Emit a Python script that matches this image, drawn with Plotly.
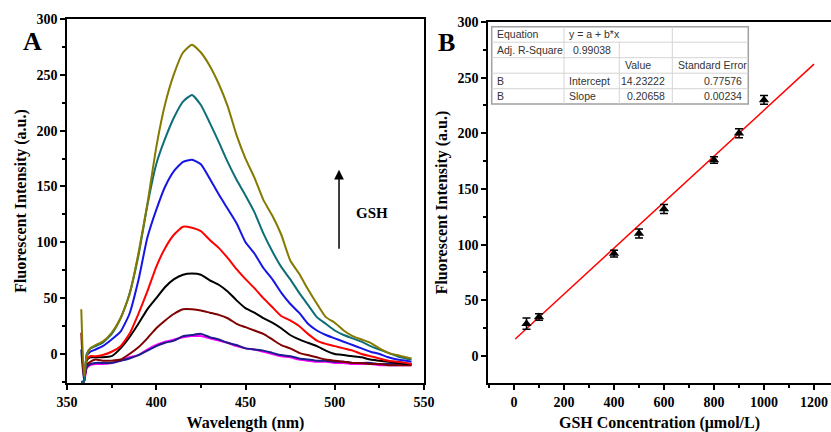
import plotly.graph_objects as go

# panel A - emission spectra at increasing GSH
wavelength = [358, 359.5, 361, 363, 366, 370, 375, 380, 385, 390, 395, 400, 405, 410, 415, 420, 425, 430, 435, 440,
              445, 450, 455, 460, 465, 470, 475, 480, 485, 490, 495, 500, 505, 510, 515, 520, 525, 530, 535, 540, 543]

magenta = [-25, -25, -13, -10, -9, -9, -8, -6, -3, -1, 4, 8, 11, 13, 15, 16, 16, 14, 12, 10,
           7, 5, 4, 2, 0, -2, -3, -5, -6, -7, -7, -8, -8, -9, -9, -9, -10, -10, -10, -10, -10]
navy = [4, -24, -12, -9, -8, -8, -8, -6, -4, -1, 3, 7, 10, 12, 16, 17, 18, 15, 13, 10,
        8, 5, 4, 3, 1, -1, -2, -4, -5, -6, -6, -7, -7, -8, -8, -8, -9, -9, -9, -9, -9]
maroon = [19, -22, -10, -7, -5, -6, -6, -5, 0, 6, 14, 23, 30, 36, 40, 40, 39, 37, 35, 32,
          27, 24, 21, 18, 13, 8, 5, 1, -1, -3, -5, -6, -7, -8, -8, -9, -9, -10, -10, -10, -10]
black = [-25, -25, -6, -3, -3, -3, -2, 5, 15, 27, 40, 50, 60, 67, 71, 72, 71, 66, 62, 56,
         48, 41, 37, 32, 28, 23, 17, 13, 10, 7, 3, 0, -1, -2, -3, -5, -6, -7, -8, -9, -9]
red = [-25, -25, -5, -2, -2, -1, 2, 7, 18, 36, 56, 78, 95, 107, 114, 113, 110, 102, 95, 86,
       76, 67, 59, 50, 42, 34, 30, 25, 18, 12, 9, 7, 5, 3, 0, -2, -4, -6, -7, -8, -9]
blue = [-25, -24, -2, 2, 4, 7, 13, 20, 36, 66, 104, 129, 150, 164, 172, 174, 170, 157, 143, 130,
        117, 100, 90, 77, 67, 55, 45, 37, 27, 21, 17, 14, 11, 8, 5, 2, 0, -3, -5, -6, -7]
teal = [-25, -25, 0, 5, 7, 10, 18, 32, 54, 88, 133, 170, 193, 212, 226, 232, 223, 207, 190, 172,
        156, 142, 127, 108, 92, 78, 67, 55, 44, 33, 27, 21, 17, 14, 11, 7, 4, 1, -2, -4, -5]
olive = [40, -20, -2, 5, 8, 11, 19, 32, 53, 90, 134, 185, 224, 251, 270, 277, 270, 258, 242, 222,
         196, 175, 158, 138, 124, 107, 84, 72, 58, 45, 33, 28, 21, 16, 13, 10, 5, 1, -1, -3, -4]

spectra = [magenta, navy, maroon, black, red, blue, teal, olive]
colors = ["#ff00ff", "#1c1c8c", "#800000", "#000000", "#ff0000", "#1515e6", "#0d6e78", "#857a00"]

# panel B - calibration
conc = [50, 100, 400, 500, 600, 800, 900, 1000]
intensity = [29, 35, 92, 110, 132, 176, 200, 230]
err = [5, 3, 3, 4, 4, 3, 4, 4]
intercept = 14.23222
slope = 0.20658
fit_x = [5, 1200]

# fit table (rows)
tbl_rows = [
    ["Equation", "y = a + b*x", "", ""],
    ["Adj. R-Square", "0.99038", "", ""],
    ["", "", "Value", "Standard Error"],
    ["B", "Intercept", "14.23222", "0.77576"],
    ["B", "Slope", "0.20658", "0.00234"],
]

serif = "Liberation Serif"
W, H = 831, 432

fig = go.Figure()

for ys, c in zip(spectra, colors):
    fig.add_trace(go.Scatter(x=wavelength, y=ys, mode="lines",
                             line=dict(color=c, width=2, shape="spline", smoothing=0.5),
                             xaxis="x", yaxis="y", showlegend=False))

fig.add_trace(go.Scatter(x=fit_x, y=[intercept + slope * v for v in fit_x], mode="lines",
                         line=dict(color="#ff0000", width=1.5), xaxis="x2", yaxis="y2", showlegend=False))
fig.add_trace(go.Scatter(x=conc, y=intensity, mode="markers",
                         marker=dict(symbol="triangle-up", size=9, color="black"),
                         error_y=dict(type="data", array=err, color="black", thickness=1.5, width=4),
                         xaxis="x2", yaxis="y2", showlegend=False))

axis_common = dict(showline=True, linewidth=1.5, linecolor="black", mirror=True,
                   ticks="outside", ticklen=5, tickwidth=1.5, tickcolor="black",
                   showgrid=False, zeroline=False, automargin=False,
                   tickprefix="<b>", ticksuffix="</b>",
                   tickfont=dict(family=serif, size=14, color="black"))
minor = dict(ticks="outside", ticklen=3, tickwidth=1.5, tickcolor="black")

fig.update_layout(
    width=W, height=H,
    margin=dict(l=0, r=0, t=0, b=0),
    paper_bgcolor="white", plot_bgcolor="white",
    font=dict(family=serif, color="black"),
    xaxis=dict(domain=[67 / W, 424 / W], range=[350, 550], dtick=50, anchor="y",
               minor=dict(dtick=25, **minor),
               title=dict(text="<b>Wavelength (nm)</b>", font=dict(size=16), standoff=8), **axis_common),
    yaxis=dict(domain=[1 - 383 / H, 1 - 19 / H], range=[-26, 300], dtick=50, anchor="x",
               minor=dict(dtick=25, **minor),
               title=dict(text="<b>Fluorescent Intensity (a.u.)</b>", font=dict(size=16), standoff=6), **axis_common),
    xaxis2=dict(domain=[488 / W, 1.0], range=[-104, 1268], dtick=200, tick0=0, anchor="y2",
                minor=dict(dtick=100, **minor),
                title=dict(text="<b>GSH Concentration (μmol/L)</b>", font=dict(size=16), standoff=8), **axis_common),
    yaxis2=dict(domain=[1 - 383 / H, 1 - 22 / H], range=[-24.3, 300], dtick=50, anchor="x2",
                minor=dict(dtick=25, **minor),
                title=dict(text="<b>Fluorescent Intensity (a.u.)</b>", font=dict(size=16), standoff=6), **axis_common),
)

# table drawn with shapes + text, positions in pixels
col_x = [491.7, 564, 619.3, 672.3, 748.3]
row_y = [26.7, 42.2, 57.7, 73.2, 88.7, 104]
px = lambda v: v / W
py = lambda v: 1 - v / H
fig.add_shape(type="rect", xref="paper", yref="paper", x0=px(col_x[0]), x1=px(col_x[-1]),
              y0=py(row_y[-1]), y1=py(row_y[0]), fillcolor="white", line=dict(color="#a0a0a0", width=1.5))
for yy in row_y[1:-1]:
    fig.add_shape(type="line", xref="paper", yref="paper", x0=px(col_x[0]), x1=px(col_x[-1]),
                  y0=py(yy), y1=py(yy), line=dict(color="#d4d4d4", width=1))
for i, xx in enumerate(col_x[1:-1]):
    top = row_y[1] if i == 1 else row_y[0]   # "y = a + b*x" spans two columns
    fig.add_shape(type="line", xref="paper", yref="paper", x0=px(xx), x1=px(xx),
                  y0=py(row_y[-1]), y1=py(top), line=dict(color="#d4d4d4", width=1))

# per-cell alignment: (anchor, x pixel)
cell_pos = [
    [("left", 495), ("left", 567), ("center", 645), ("center", 710)],
    [("left", 495), ("center", 592), ("center", 645), ("center", 710)],
    [("left", 495), ("left", 567), ("left", 623), ("left", 676)],
    [("left", 495), ("left", 567), ("right", 667), ("right", 744)],
    [("left", 495), ("left", 567), ("right", 667), ("right", 744)],
]
for r, row in enumerate(tbl_rows):
    yc = (row_y[r] + row_y[r + 1]) / 2
    for c, txt in enumerate(row):
        if not txt:
            continue
        anchor, xx = cell_pos[r][c]
        fig.add_annotation(x=px(xx), y=py(yc), xref="paper", yref="paper", text=txt, showarrow=False,
                           xanchor=anchor, yanchor="middle",
                           font=dict(family="Liberation Sans", size=10.5, color="#333"))

# GSH arrow
fig.add_annotation(x=502.4, y=165, ax=502.4, ay=93, xref="x", yref="y", axref="x", ayref="y",
                   text="", showarrow=True, arrowhead=2, arrowsize=1.3, arrowwidth=1.5, arrowcolor="black")
fig.add_annotation(x=521, y=126, xref="x", yref="y", text="<b>GSH</b>", showarrow=False,
                   font=dict(family=serif, size=15, color="black"))

# panel letters
fig.add_annotation(x=px(21), y=py(25), xref="paper", yref="paper", text="<b>A</b>", showarrow=False,
                   font=dict(family=serif, size=26, color="black"))
fig.add_annotation(x=px(446), y=py(26), xref="paper", yref="paper", text="<b>B</b>", showarrow=False,
                   font=dict(family=serif, size=26, color="black"))

fig.write_html("out.html", config={"displayModeBar": False},
               post_script="document.body.style.margin='0';")
